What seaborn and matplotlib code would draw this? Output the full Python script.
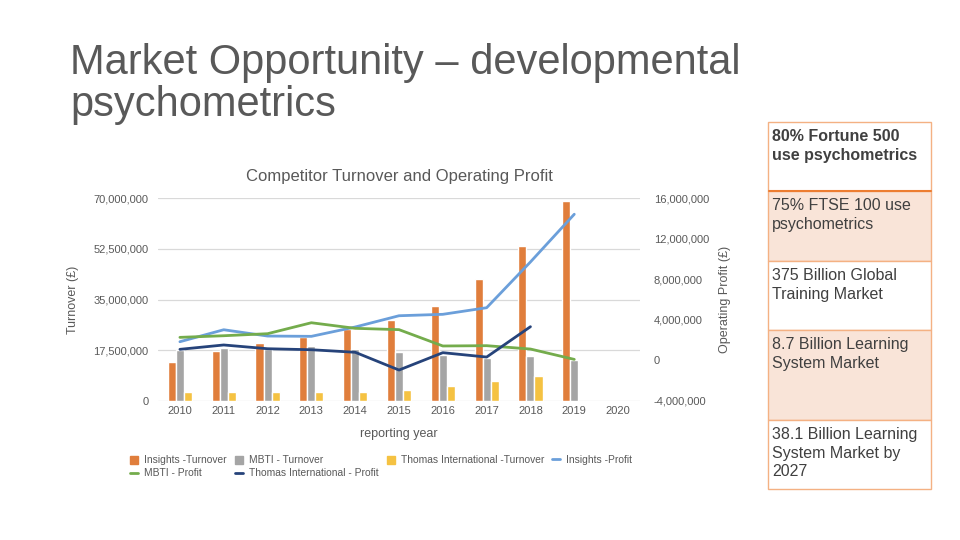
import matplotlib
matplotlib.use("Agg")
import matplotlib.pyplot as plt
import seaborn as sns
import pandas as pd
import numpy as np
from matplotlib.patches import Patch, Rectangle
from matplotlib.lines import Line2D
from matplotlib.ticker import FuncFormatter

# ---- data ----
years = [str(y) for y in range(2010, 2021)]
nan = np.nan
insights_turnover = [13.5e6, 17.3e6, 20.1e6, 22.0e6, 25.0e6, 27.9e6, 32.8e6, 42.1e6, 53.4e6, 69.0e6, nan]
mbti_turnover = [17.6e6, 18.4e6, 18.0e6, 19.1e6, 17.9e6, 16.9e6, 16.0e6, 14.8e6, 15.6e6, 14.1e6, nan]
thomas_turnover = [3.2e6, 3.2e6, 3.2e6, 3.2e6, 3.2e6, 3.8e6, 5.2e6, 6.9e6, 8.6e6, nan, nan]

insights_profit = [1.84e6, 3.02e6, 2.40e6, 2.37e6, 3.29e6, 4.40e6, 4.54e6, 5.19e6, 9.70e6, 14.4e6, nan]
mbti_profit = [2.27e6, 2.43e6, 2.63e6, 3.71e6, 3.16e6, 3.03e6, 1.42e6, 1.45e6, 1.12e6, 0.10e6, nan]
thomas_profit = [1.09e6, 1.52e6, 1.15e6, 1.05e6, 0.80e6, -0.95e6, 0.76e6, 0.33e6, 3.32e6, nan, nan]

bar_names = ["Insights -Turnover", "MBTI - Turnover", "Thomas International -Turnover"]
line_names = ["Insights -Profit", "MBTI - Profit", "Thomas International - Profit"]
bar_colors = ["#E07E3C", "#A5A5A5", "#F5C242"]
line_colors = ["#6B9FDA", "#74AC4C", "#26437A"]

title_lines = ["Market Opportunity – developmental", "psychometrics"]
facts = ["80% Fortune 500\nuse psychometrics", "75% FTSE 100 use\npsychometrics",
         "375 Billion Global\nTraining Market", "8.7 Billion Learning\nSystem Market",
         "38.1 Billion Learning\nSystem Market by\n2027"]

bars = pd.DataFrame({"year": years * 3,
                     "series": np.repeat(bar_names, len(years)),
                     "value": insights_turnover + mbti_turnover + thomas_turnover})
lines = pd.DataFrame({"pos": list(range(len(years))) * 3,
                      "series": np.repeat(line_names, len(years)),
                      "value": insights_profit + mbti_profit + thomas_profit}).dropna()

sns.set_theme(style="white")
plt.rcParams["font.family"] = ["Liberation Sans", "DejaVu Sans"]
txt = "#595959"

fig = plt.figure(figsize=(9.6, 5.4), dpi=100)
W, H = 960, 540

for k, base in enumerate([74, 116]):
    fig.text(70 / W, 1 - base / H, title_lines[k], fontsize=30, color=txt,
             va="baseline", ha="left")

ax = fig.add_axes([158 / W, 1 - 401 / H, (640 - 158) / W, (401 - 198) / H])
sns.barplot(data=bars, x="year", y="value", hue="series", order=years, hue_order=bar_names,
            palette=bar_colors, width=0.55, saturation=1, legend=False, ax=ax)
ax.set_xlim(-0.5, len(years) - 0.5)
ax.set_ylim(0, 70e6)
ax.set_yticks(np.arange(0, 70e6 + 1, 17.5e6))
ax.yaxis.grid(True, color="#D9D9D9", linewidth=0.9)
ax.set_axisbelow(True)
fmt = FuncFormatter(lambda v, p: f"{v:,.0f}")
ax.yaxis.set_major_formatter(fmt)
ax.set_xlabel("reporting year", fontsize=9, color=txt, labelpad=9)
ax.set_ylabel("Turnover (£)", fontsize=9, color=txt, labelpad=10)
ax.tick_params(length=0, labelsize=8, colors=txt)
ax.tick_params(axis="y", pad=7)

ax2 = ax.twinx()
sns.lineplot(data=lines, x="pos", y="value", hue="series", hue_order=line_names,
             palette=line_colors, linewidth=2, legend=False, ax=ax2)
ax2.set_ylim(-4e6, 16e6)
ax2.set_yticks(np.arange(-4e6, 16e6 + 1, 4e6))
ax2.yaxis.set_major_formatter(fmt)
ax2.set_ylabel("Operating Profit (£)", fontsize=9, color=txt, labelpad=7)
ax2.set_xlabel("")
ax2.tick_params(length=0, labelsize=8, colors=txt, pad=10)
for a in (ax, ax2):
    for s in a.spines.values():
        s.set_visible(False)

ax.set_title("Competitor Turnover and Operating Profit", fontsize=12, color=txt, pad=12)

# legend, row-major order rebuilt for matplotlib's column fill
h = [Patch(color=c, label=n) for n, c in zip(bar_names, bar_colors)] + \
    [Line2D([], [], color=c, lw=2, label=n) for n, c in zip(line_names, line_colors)]
order = [0, 4, 1, 5, 2, 3]
fig.legend(handles=[h[i] for i in order], loc="upper left", bbox_to_anchor=(121 / W, 1 - 446 / H),
           ncol=4, frameon=False, fontsize=7.4, handlelength=0.8, handleheight=0.8,
           handletextpad=0.55, columnspacing=0.8, labelspacing=0.3, labelcolor=txt)

# fact table on the right
edges = [122, 191, 261, 330, 420, 489]
fills = ["white", "#F9E4D8", "white", "#F9E4D8", "white"]
for i, fact in enumerate(facts):
    y0, y1 = edges[i], edges[i + 1]
    fig.patches.append(Rectangle((768 / W, 1 - y1 / H), (931 - 768) / W, (y1 - y0) / H,
                                 transform=fig.transFigure, facecolor=fills[i],
                                 edgecolor="#F4B183", linewidth=1))
    fig.text(772 / W, 1 - (y0 + 7) / H, fact, fontsize=11.5, color="#404040", va="top", ha="left",
             fontweight="bold" if i == 0 else "normal", linespacing=1.3)
fig.add_artist(Line2D([768.5 / W, 930.5 / W], [1 - 191 / H] * 2, color="#ED7D31", lw=1.5,
                      transform=fig.transFigure))

fig.savefig("out.png", dpi=100)
